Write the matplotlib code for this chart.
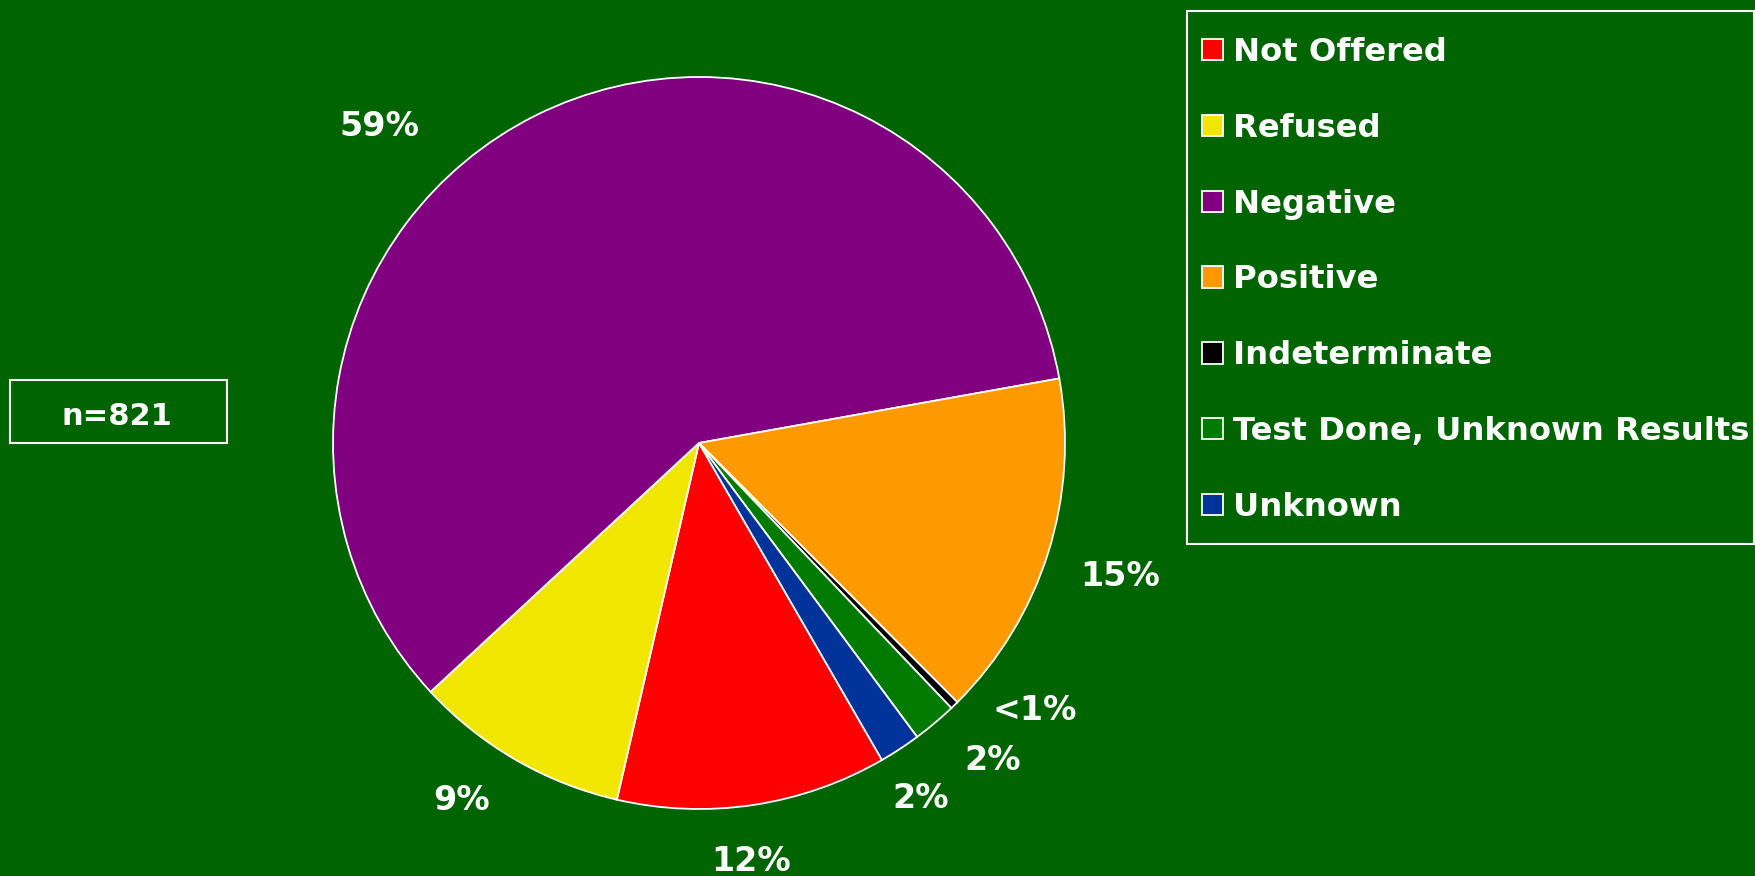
import matplotlib
matplotlib.use("Agg")
import matplotlib.pyplot as plt
from matplotlib.patches import Rectangle

# ---- data ----
categories = ["Not Offered", "Refused", "Negative", "Positive",
              "Indeterminate", "Test Done, Unknown Results", "Unknown"]
counts = [98, 78, 485, 126, 3, 16, 15]
pct_labels = ["12%", "9%", "59%", "15%", "<1%", "2%", "2%"]
n_label = "n=821"

# ---- style ----
colors = ["#FF0000", "#F0E600", "#800080", "#FF9900", "#000000", "#007A00", "#003399"]
bg = "#006400"
FONT = ["DejaVu Sans"]
FS = 23.2
label_pos = [(0.142, -1.169), (-0.649, -1.004), (-0.872, 0.840), (1.150, -0.392),
             (0.917, -0.757), (0.803, -0.893), (0.605, -0.998)]

W, H = 1756, 876
fig = plt.figure(figsize=(W / 100, H / 100), dpi=100, facecolor=bg)

cx, cy, r = 699, 443, 366
ax = fig.add_axes([(cx - r) / W, (H - cy - r) / H, 2 * r / W, 2 * r / H])
wedges, _ = ax.pie(counts, colors=colors, startangle=-60, counterclock=False,
                   radius=1,
                   wedgeprops=dict(edgecolor="white", linewidth=1.3))
ax.set_xlim(-1, 1)
ax.set_ylim(-1, 1)
ax.set_aspect("equal")
ax.axis("off")

for (x, y), t in zip(label_pos, pct_labels):
    ax.text(x, y, t, ha="center", va="baseline", color="white",
            fontsize=24, fontweight="bold", family=FONT)

# legend frame
fig.patches.append(Rectangle((1187 / W, 1 - 544 / H), (1754 - 1187) / W, (544 - 11) / H,
                             transform=fig.transFigure, fill=False,
                             edgecolor="white", linewidth=1.5))
leg = fig.legend(wedges, categories, loc="upper left",
                 bbox_to_anchor=(1202 / W, 1 - 37 / H),
                 frameon=False, borderpad=0, borderaxespad=0,
                 handlelength=0.65, handleheight=0.65, handletextpad=0.31,
                 labelspacing=1.39,
                 prop=dict(family=FONT, weight="bold", size=FS))
for t in leg.get_texts():
    t.set_color("white")

# n box
fig.patches.append(Rectangle((10 / W, 1 - 443 / H), (227 - 10) / W, (443 - 380) / H,
                             transform=fig.transFigure, fill=False,
                             edgecolor="white", linewidth=1.5))
fig.text(117 / W, 1 - 425 / H, n_label, ha="center", va="baseline", color="white",
         fontsize=22, fontweight="bold", family=FONT)

fig.savefig("out.png", dpi=100, facecolor=bg)
